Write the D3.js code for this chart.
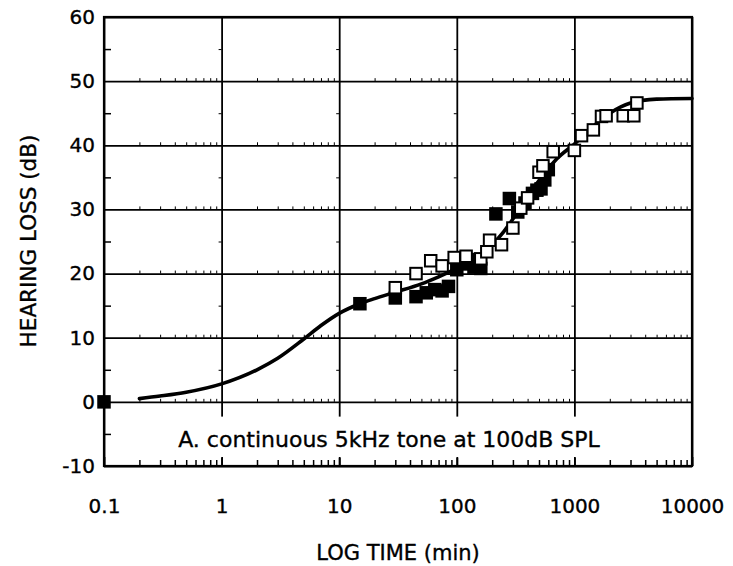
<!DOCTYPE html>
<html>
<head>
<meta charset="utf-8">
<script src="https://cdn.jsdelivr.net/npm/d3@7"></script>
<style>
  html, body { margin: 0; padding: 0; background: #fff; }
  svg { display: block; font-family: "DejaVu Sans", sans-serif; }
  svg text { stroke: #000; stroke-width: 0.35px; fill: #000; }
</style>
</head>
<body>
<svg id="chart" width="733" height="566"></svg>
<script>
// Axis ticks
const xTickValues = [0.1, 1, 10, 100, 1000, 10000];
const xTickLabels = ["0.1", "1", "10", "100", "1000", "10000"];
const yTickValues = [-10, 0, 10, 20, 30, 40, 50, 60];
const yTickLabels = ["-10", "0", "10", "20", "30", "40", "50", "60"];

// Fitted growth curve: exposure time (min) and hearing loss (dB)
const curveTime = [0.2, 0.3, 0.5, 1, 2, 3, 5, 7, 10, 15, 20, 30, 50, 70, 100, 150, 200, 250, 300, 400, 500, 700, 1000, 1500, 2000, 3000, 5000, 10000];
const curveLoss = [0.5, 0.9, 1.5, 2.8, 5.0, 6.8, 9.8, 11.9, 13.8, 15.3, 16.1, 17.1, 18.4, 19.5, 20.8, 22.5, 24.5, 26.5, 28.5, 32.0, 34.5, 37.8, 40.2, 43.2, 45.0, 46.6, 47.2, 47.3];

// Measured points, filled squares
const filledTime = [0.1, 15, 30, 45, 55, 65, 75, 85, 100, 110, 125, 140, 160, 215, 280, 330, 380, 440, 480, 520, 560, 600];
const filledLoss = [0, 15.3, 16.2, 16.4, 17.0, 17.5, 17.3, 18.0, 20.6, 21.5, 22.2, 21.0, 20.8, 29.3, 31.7, 29.6, 31.0, 32.5, 33.0, 33.2, 34.6, 36.2];

// Measured points, open squares
const openTime = [30, 45, 60, 75, 95, 120, 160, 180, 190, 240, 300, 350, 400, 500, 540, 660, 1000, 1150, 1450, 1700, 1860, 2600, 3200, 3400];
const openLoss = [17.8, 20.0, 22.0, 21.2, 22.5, 22.7, 22.3, 23.4, 25.2, 24.5, 27.1, 30.2, 31.8, 35.8, 36.8, 39.0, 39.2, 41.5, 42.4, 44.5, 44.6, 44.6, 44.6, 46.6];

const caption = "A. continuous 5kHz tone at 100dB SPL";

const svg = d3.select("#chart");
const plotLeft = 104, plotTop = 17, plotRight = 692, plotBottom = 466;
const w = plotRight - plotLeft, h = plotBottom - plotTop;

const x = d3.scaleLog().domain([0.1, 10000]).range([plotLeft, plotRight]);
const y = d3.scaleLinear().domain([-10, 60]).range([plotBottom, plotTop]);

// minor tick positions
const minorX = [];
for (let d = 0.1; d < 10000; d *= 10) {
  for (let k = 2; k <= 9; k++) minorX.push(+(d * k).toPrecision(3));
}
const minorY = d3.range(-5, 60, 10);

function styleLines(g, width) {
  g.select(".domain").remove();
  g.selectAll("line").attr("stroke", "#000").attr("stroke-width", width);
}

// grid
svg.append("g")
  .attr("transform", `translate(${plotLeft},0)`)
  .call(d3.axisLeft(y).tickValues(yTickValues).tickSize(-w).tickFormat(""))
  .call(g => styleLines(g, 1.8));
svg.append("g")
  .attr("transform", `translate(0,${plotBottom})`)
  .call(d3.axisBottom(x).tickValues(xTickValues).tickSize(-h).tickFormat(""))
  .call(g => styleLines(g, 1.8));

// small marks along each grid line
yTickValues.slice(1, -1).forEach(v => {
  svg.append("g")
    .attr("transform", `translate(0,${y(v)})`)
    .call(d3.axisBottom(x).tickValues(minorX).tickSize(-3).tickFormat(""))
    .call(g => styleLines(g, 1));
});
xTickValues.slice(1, -1).forEach(v => {
  svg.append("g")
    .attr("transform", `translate(${x(v)},0)`)
    .call(d3.axisLeft(y).tickValues(minorY).tickSize(3).tickFormat(""))
    .call(g => styleLines(g, 1));
});

// caption band
svg.append("rect")
  .attr("x", plotLeft + 2).attr("y", y(-2.3))
  .attr("width", w - 4).attr("height", plotBottom - y(-2.3) - 8)
  .attr("fill", "#fff");

// minor ticks on frame
svg.append("g")
  .attr("transform", `translate(0,${plotBottom})`)
  .call(d3.axisBottom(x).tickValues(minorX).tickSize(-6).tickFormat(""))
  .call(g => styleLines(g, 1.5));
svg.append("g")
  .attr("transform", `translate(0,${plotBottom})`)
  .call(d3.axisBottom(x).tickValues(xTickValues).tickSize(-9).tickFormat(""))
  .call(g => styleLines(g, 1.8));
svg.append("g")
  .attr("transform", `translate(${plotLeft},0)`)
  .call(d3.axisLeft(y).tickValues(minorY).tickSize(-7).tickFormat(""))
  .call(g => styleLines(g, 1.5));

// frame
svg.append("rect")
  .attr("x", plotLeft).attr("y", plotTop).attr("width", w).attr("height", h)
  .attr("fill", "none").attr("stroke", "#000").attr("stroke-width", 2.2);

// tick labels
svg.append("g")
  .attr("transform", `translate(${plotLeft},0)`)
  .call(d3.axisLeft(y).tickValues(yTickValues).tickSize(0).tickPadding(9)
    .tickFormat((d, i) => yTickLabels[i]))
  .call(g => g.select(".domain").remove())
  .call(g => g.selectAll("text").attr("font-size", 20)
    .attr("font-family", "DejaVu Sans, sans-serif"));
svg.append("g")
  .attr("transform", `translate(0,${plotBottom})`)
  .call(d3.axisBottom(x).tickValues(xTickValues).tickSize(0).tickPadding(33)
    .tickFormat((d, i) => xTickLabels[i]))
  .call(g => g.select(".domain").remove())
  .call(g => g.selectAll("text").attr("font-size", 20)
    .attr("font-family", "DejaVu Sans, sans-serif"));

// axis titles
svg.append("text")
  .attr("x", 398).attr("y", 560)
  .attr("text-anchor", "middle").attr("font-size", 21)
  .text("LOG TIME (min)");
svg.append("text")
  .attr("transform", `translate(36,241) rotate(-90)`)
  .attr("text-anchor", "middle").attr("font-size", 21.5)
  .text("HEARING LOSS (dB)");

// caption
svg.append("text")
  .attr("x", 389).attr("y", y(-7))
  .attr("text-anchor", "middle").attr("font-size", 22)
  .text(caption);

// fitted curve
const curveData = curveTime.map((t, i) => [t, curveLoss[i]]);
svg.append("path")
  .datum(curveData)
  .attr("d", d3.line().x(d => x(d[0])).y(d => y(d[1])).curve(d3.curveMonotoneX))
  .attr("fill", "none").attr("stroke", "#000").attr("stroke-width", 3.6)
  .attr("stroke-linecap", "round");

// data markers
const size = 11.5;
const filled = filledTime.map((t, i) => [t, filledLoss[i]]);
const open = openTime.map((t, i) => [t, openLoss[i]]);

svg.append("g").selectAll("rect")
  .data(filled).join("rect")
  .attr("x", d => x(d[0]) - size / 2).attr("y", d => y(d[1]) - size / 2)
  .attr("width", size).attr("height", size)
  .attr("fill", "#000").attr("stroke", "#000").attr("stroke-width", 2);

svg.append("g").selectAll("rect")
  .data(open).join("rect")
  .attr("x", d => x(d[0]) - size / 2).attr("y", d => y(d[1]) - size / 2)
  .attr("width", size).attr("height", size)
  .attr("fill", "#fff").attr("stroke", "#000").attr("stroke-width", 2);
</script>
</body>
</html>
